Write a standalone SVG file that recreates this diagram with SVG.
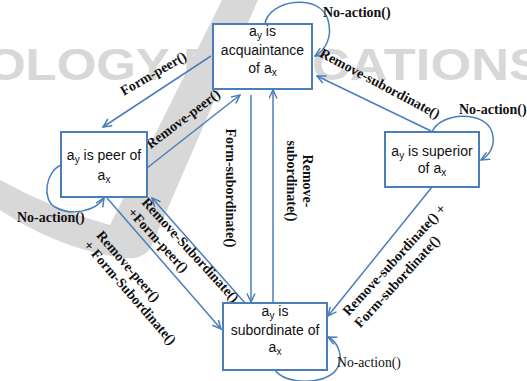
<svg xmlns="http://www.w3.org/2000/svg" width="527" height="381" viewBox="0 0 527 381">
<defs>
<style>
.box{fill:#fff;stroke:#4a7ebb;stroke-width:2}
.nt{font-family:"Liberation Sans",Arial,sans-serif;font-size:14px;fill:#111;text-anchor:middle}
.sub{font-size:10px}
.ln{fill:none;stroke:#4a7ebb;stroke-width:1.5}
.lb{font-family:"Liberation Serif","Times New Roman",serif;font-size:14px;font-weight:bold;fill:#111}
.lbn{font-family:"Liberation Serif","Times New Roman",serif;font-size:13.7px;fill:#111}
.wm{fill:#d8d8d8}
.wmt{font-family:"Liberation Sans",Arial,sans-serif;font-size:44px;font-weight:bold;fill:#d8d8d8}
</style>
<marker id="ah" markerWidth="10" markerHeight="10" refX="9" refY="4.5" orient="auto" markerUnits="userSpaceOnUse">
<path d="M0.5,0.5 L9,4.5 L0.5,8.5" fill="none" stroke="#4a7ebb" stroke-width="1.5"/>
</marker>
</defs>
<rect width="527" height="381" fill="#fff"/>
<g id="watermark">
<path class="wm" d="M222,0 L258,0 L152,245 Q145,260 125,258 Q60,250 0,210 L0,180 Q55,210 110,225 Z"/>
<text class="wmt" x="-14" y="80" textLength="231" lengthAdjust="spacingAndGlyphs">OLOGY P</text>
<text class="wmt" x="312" y="80" textLength="232" lengthAdjust="spacingAndGlyphs">CATIONS</text>
</g>
<g id="connectors">
<line class="ln" x1="211" y1="56" x2="103" y2="127" marker-end="url(#ah)"/>
<line class="ln" x1="147" y1="168" x2="240" y2="95" marker-end="url(#ah)"/>
<line class="ln" x1="251" y1="95" x2="251" y2="302" marker-end="url(#ah)"/>
<line class="ln" x1="273" y1="302" x2="273" y2="90" marker-end="url(#ah)"/>
<line class="ln" x1="431" y1="131" x2="317" y2="76" marker-end="url(#ah)"/>
<line class="ln" x1="432" y1="187" x2="328" y2="316" marker-end="url(#ah)"/>
<line class="ln" x1="245" y1="303" x2="152" y2="198" marker-end="url(#ah)"/>
<line class="ln" x1="107" y1="198" x2="221" y2="329" marker-end="url(#ah)"/>
<path class="ln" d="M265,24 C268,0 320,-8 328,20 C333,38 325,50 315,56" marker-end="url(#ah)"/>
<path class="ln" d="M432,132 C440,112 485,110 492,132 C496,145 490,155 481,160" marker-end="url(#ah)"/>
<path class="ln" d="M61,165 C45,172 42,200 55,207 C70,216 95,212 104,198" marker-end="url(#ah)"/>
<path class="ln" d="M275,370 C285,385 325,385 336,370 C345,358 338,342 328,337" marker-end="url(#ah)"/>
<text class="lb" transform="translate(123.7,96) rotate(-30)">Form-peer()</text>
<text class="lb" transform="translate(150.4,149.2) rotate(-37)" font-size="13.5">Remove-peer()</text>
<text class="lb" transform="translate(318.7,56.2) rotate(28)">Remove-subordinate()</text>
<text class="lb" transform="translate(226,188) rotate(90)" text-anchor="middle">Form-subordinate()</text>
<text class="lb" transform="translate(303,181) rotate(90)" text-anchor="middle"><tspan x="0" y="0">Remove-</tspan><tspan x="0" dy="16">subordinate()</tspan></text>
<text class="lb" transform="translate(348.5,316.4) rotate(-47.5)"><tspan x="0" y="0">Remove-subordinate() +</tspan><tspan x="-1" dy="17">Form-subordinate()</tspan></text>
<text class="lb" transform="translate(141,203) rotate(47.5)" font-size="13.5"><tspan x="0" y="0">Remove-Subordinate()</tspan><tspan x="-2" dy="17">+Form-peer()</tspan></text>
<text class="lb" transform="translate(95.7,235.8) rotate(49)"><tspan x="0" y="0">Remove-peer()</tspan><tspan x="-1" dy="16">+ Form-Subordinate()</tspan></text>
<text class="lb" x="323" y="17" font-size="13.7">No-action()</text>
<text class="lb" x="459" y="114" font-size="13.4">No-action()</text>
<text class="lb" x="17" y="222" font-size="13.7">No-action()</text>
<text class="lbn" x="337" y="367">No-action()</text>
</g>
<g id="acquaintance">
<rect class="box" x="213" y="24" width="99" height="65"/>
<text class="nt" x="262.5" y="36">a<tspan class="sub" dy="3">y</tspan><tspan dy="-3"> is</tspan></text>
<text class="nt" x="262.5" y="55">acquaintance</text>
<text class="nt" x="262.5" y="73">of a<tspan class="sub" dy="3">x</tspan></text>
</g>
<g id="peer">
<rect class="box" x="61" y="132" width="86" height="65"/>
<text class="nt" x="104" y="160">a<tspan class="sub" dy="3">y</tspan><tspan dy="-3"> is peer of</tspan></text>
<text class="nt" x="104" y="180">a<tspan class="sub" dy="3">x</tspan></text>
</g>
<g id="superior">
<rect class="box" x="385" y="132" width="94" height="55"/>
<text class="nt" x="432" y="156">a<tspan class="sub" dy="3">y</tspan><tspan dy="-3"> is superior</tspan></text>
<text class="nt" x="432" y="173">of a<tspan class="sub" dy="3">x</tspan></text>
</g>
<g id="subordinate">
<rect class="box" x="223" y="303" width="104" height="67"/>
<text class="nt" x="275" y="316">a<tspan class="sub" dy="3">y</tspan><tspan dy="-3"> is</tspan></text>
<text class="nt" x="275" y="334.5">subordinate of</text>
<text class="nt" x="275" y="352">a<tspan class="sub" dy="3">x</tspan></text>
</g>
</svg>
